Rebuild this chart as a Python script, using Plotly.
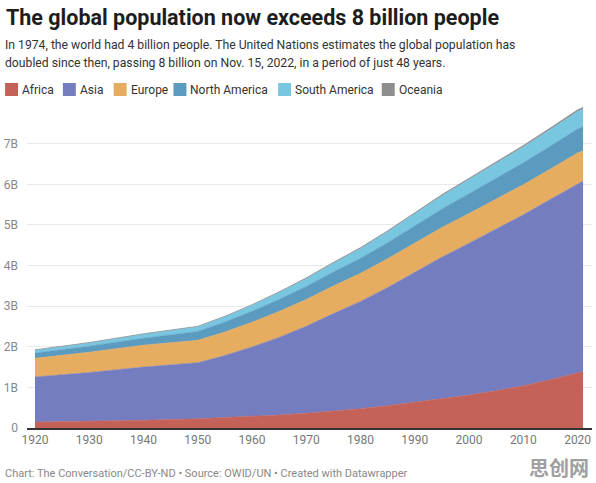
import plotly.graph_objects as go

years = [1920, 1930, 1940, 1950, 1955, 1960, 1965, 1970, 1975, 1980, 1985,
         1990, 1995, 2000, 2005, 2010, 2015, 2020, 2021]
africa = [0.145, 0.165, 0.19, 0.228, 0.254, 0.283, 0.32, 0.365, 0.417, 0.477, 0.548,
          0.63, 0.717, 0.81, 0.918, 1.04, 1.19, 1.36, 1.39]
asia = [1.11, 1.20, 1.31, 1.38, 1.53, 1.71, 1.91, 2.14, 2.40, 2.64, 2.91,
        3.21, 3.49, 3.74, 3.98, 4.21, 4.44, 4.66, 4.69]
europe = [0.46, 0.50, 0.54, 0.55, 0.58, 0.61, 0.64, 0.66, 0.68, 0.69, 0.71,
          0.72, 0.73, 0.73, 0.73, 0.74, 0.745, 0.75, 0.745]
north_america = [0.13, 0.15, 0.17, 0.22, 0.245, 0.27, 0.295, 0.32, 0.345, 0.37, 0.395,
                 0.42, 0.455, 0.49, 0.515, 0.54, 0.565, 0.59, 0.595]
south_america = [0.07, 0.08, 0.10, 0.114, 0.13, 0.148, 0.17, 0.192, 0.217, 0.242, 0.27,
                 0.297, 0.325, 0.35, 0.372, 0.39, 0.41, 0.43, 0.434]
oceania = [0.009, 0.010, 0.011, 0.0127, 0.014, 0.016, 0.0176, 0.0195, 0.021, 0.023, 0.025,
           0.027, 0.029, 0.031, 0.034, 0.037, 0.040, 0.043, 0.044]

names = ["Africa", "Asia", "Europe", "North America", "South America", "Oceania"]
series = [africa, asia, europe, north_america, south_america, oceania]
colors = ["#c4625a", "#747dc0", "#e6ad61", "#5c9bc0", "#79c6e1", "#8e8e8e"]

y_tickvals = [0, 1e9, 2e9, 3e9, 4e9, 5e9, 6e9, 7e9]
y_ticktext = ["0", "1B", "2B", "3B", "4B", "5B", "6B", "7B"]
x_tickvals = [1920, 1930, 1940, 1950, 1960, 1970, 1980, 1990, 2000, 2010, 2020]

title = "The global population now exceeds 8 billion people"
subtitle_lines = [
    "In 1974, the world had 4 billion people. The United Nations estimates the global population has",
    "doubled since then, passing 8 billion on Nov. 15, 2022, in a period of just 48 years.",
]
footer = "Chart: The Conversation/CC-BY-ND • Source: OWID/UN • Created with Datawrapper"

W, H = 596, 483
L, R, T, B = 25, 4, 99, 55
PW, PH = W - L - R, H - T - B


def px(x):
    return (x - L) / PW


def py(y):
    return (H - B - y) / PH


fig = go.Figure()
for name, vals, col in zip(names, series, colors):
    fig.add_trace(go.Scatter(
        x=years, y=[v * 1e9 for v in vals], name=name, mode="lines",
        stackgroup="one", line=dict(color=col, width=0.6),
        fillcolor=col, showlegend=False, hoverinfo="skip"))

font = "Roboto, 'Noto Sans', sans-serif"
annotations = [
    dict(text="<b>" + title + "</b>",
         x=px(2), y=py(17), xref="paper", yref="paper", xanchor="left", yanchor="middle",
         showarrow=False, font=dict(family=font, size=21.5, color="#1d1d1d")),
    dict(text=footer,
         x=px(1), y=py(473), xref="paper", yref="paper", xanchor="left", yanchor="middle",
         showarrow=False, font=dict(family=font, size=11, color="#888888")),
    dict(text="<b>思创网</b>",
         x=px(591), y=py(467), xref="paper", yref="paper", xanchor="right", yanchor="middle",
         showarrow=False, font=dict(family="Noto Sans CJK SC", size=20, color="#a0a0a0")),
]
for line, ly in zip(subtitle_lines, [45, 63]):
    annotations.append(dict(text=line, x=px(1), y=py(ly), xref="paper", yref="paper",
                            xanchor="left", yanchor="middle", showarrow=False,
                            font=dict(family=font, size=12.2, color="#333333")))

shapes = []
legend_x = [3, 61, 112, 172, 277, 381]
for name, col, lx in zip(names, colors, legend_x):
    shapes.append(dict(type="rect", xref="paper", yref="paper",
                       x0=px(lx), x1=px(lx + 13), y0=py(96), y1=py(83),
                       fillcolor=col, line=dict(width=0)))
    annotations.append(dict(text=name, x=px(lx + 15), y=py(89.5), xref="paper", yref="paper",
                            xanchor="left", yanchor="middle", showarrow=False,
                            font=dict(family=font, size=12, color="#333333")))

fig.update_layout(
    width=W, height=H, margin=dict(l=L, r=R, t=T, b=B),
    paper_bgcolor="white", plot_bgcolor="white",
    annotations=annotations, shapes=shapes,
    xaxis=dict(range=[1918.53, 2022.65], tickvals=x_tickvals, showgrid=False,
               zeroline=False, showline=True, linecolor="#333333", linewidth=1.5,
               ticks="", tickfont=dict(family=font, size=12, color="#777777")),
    yaxis=dict(range=[0, 8.1e9], tickvals=y_tickvals, ticktext=y_ticktext,
               showgrid=True, gridcolor="#e9e9ec", gridwidth=1, zeroline=False,
               ticks="", ticklabelstandoff=8,
               tickfont=dict(family=font, size=12, color="#888888")),
)

fig.write_html("out.html")
